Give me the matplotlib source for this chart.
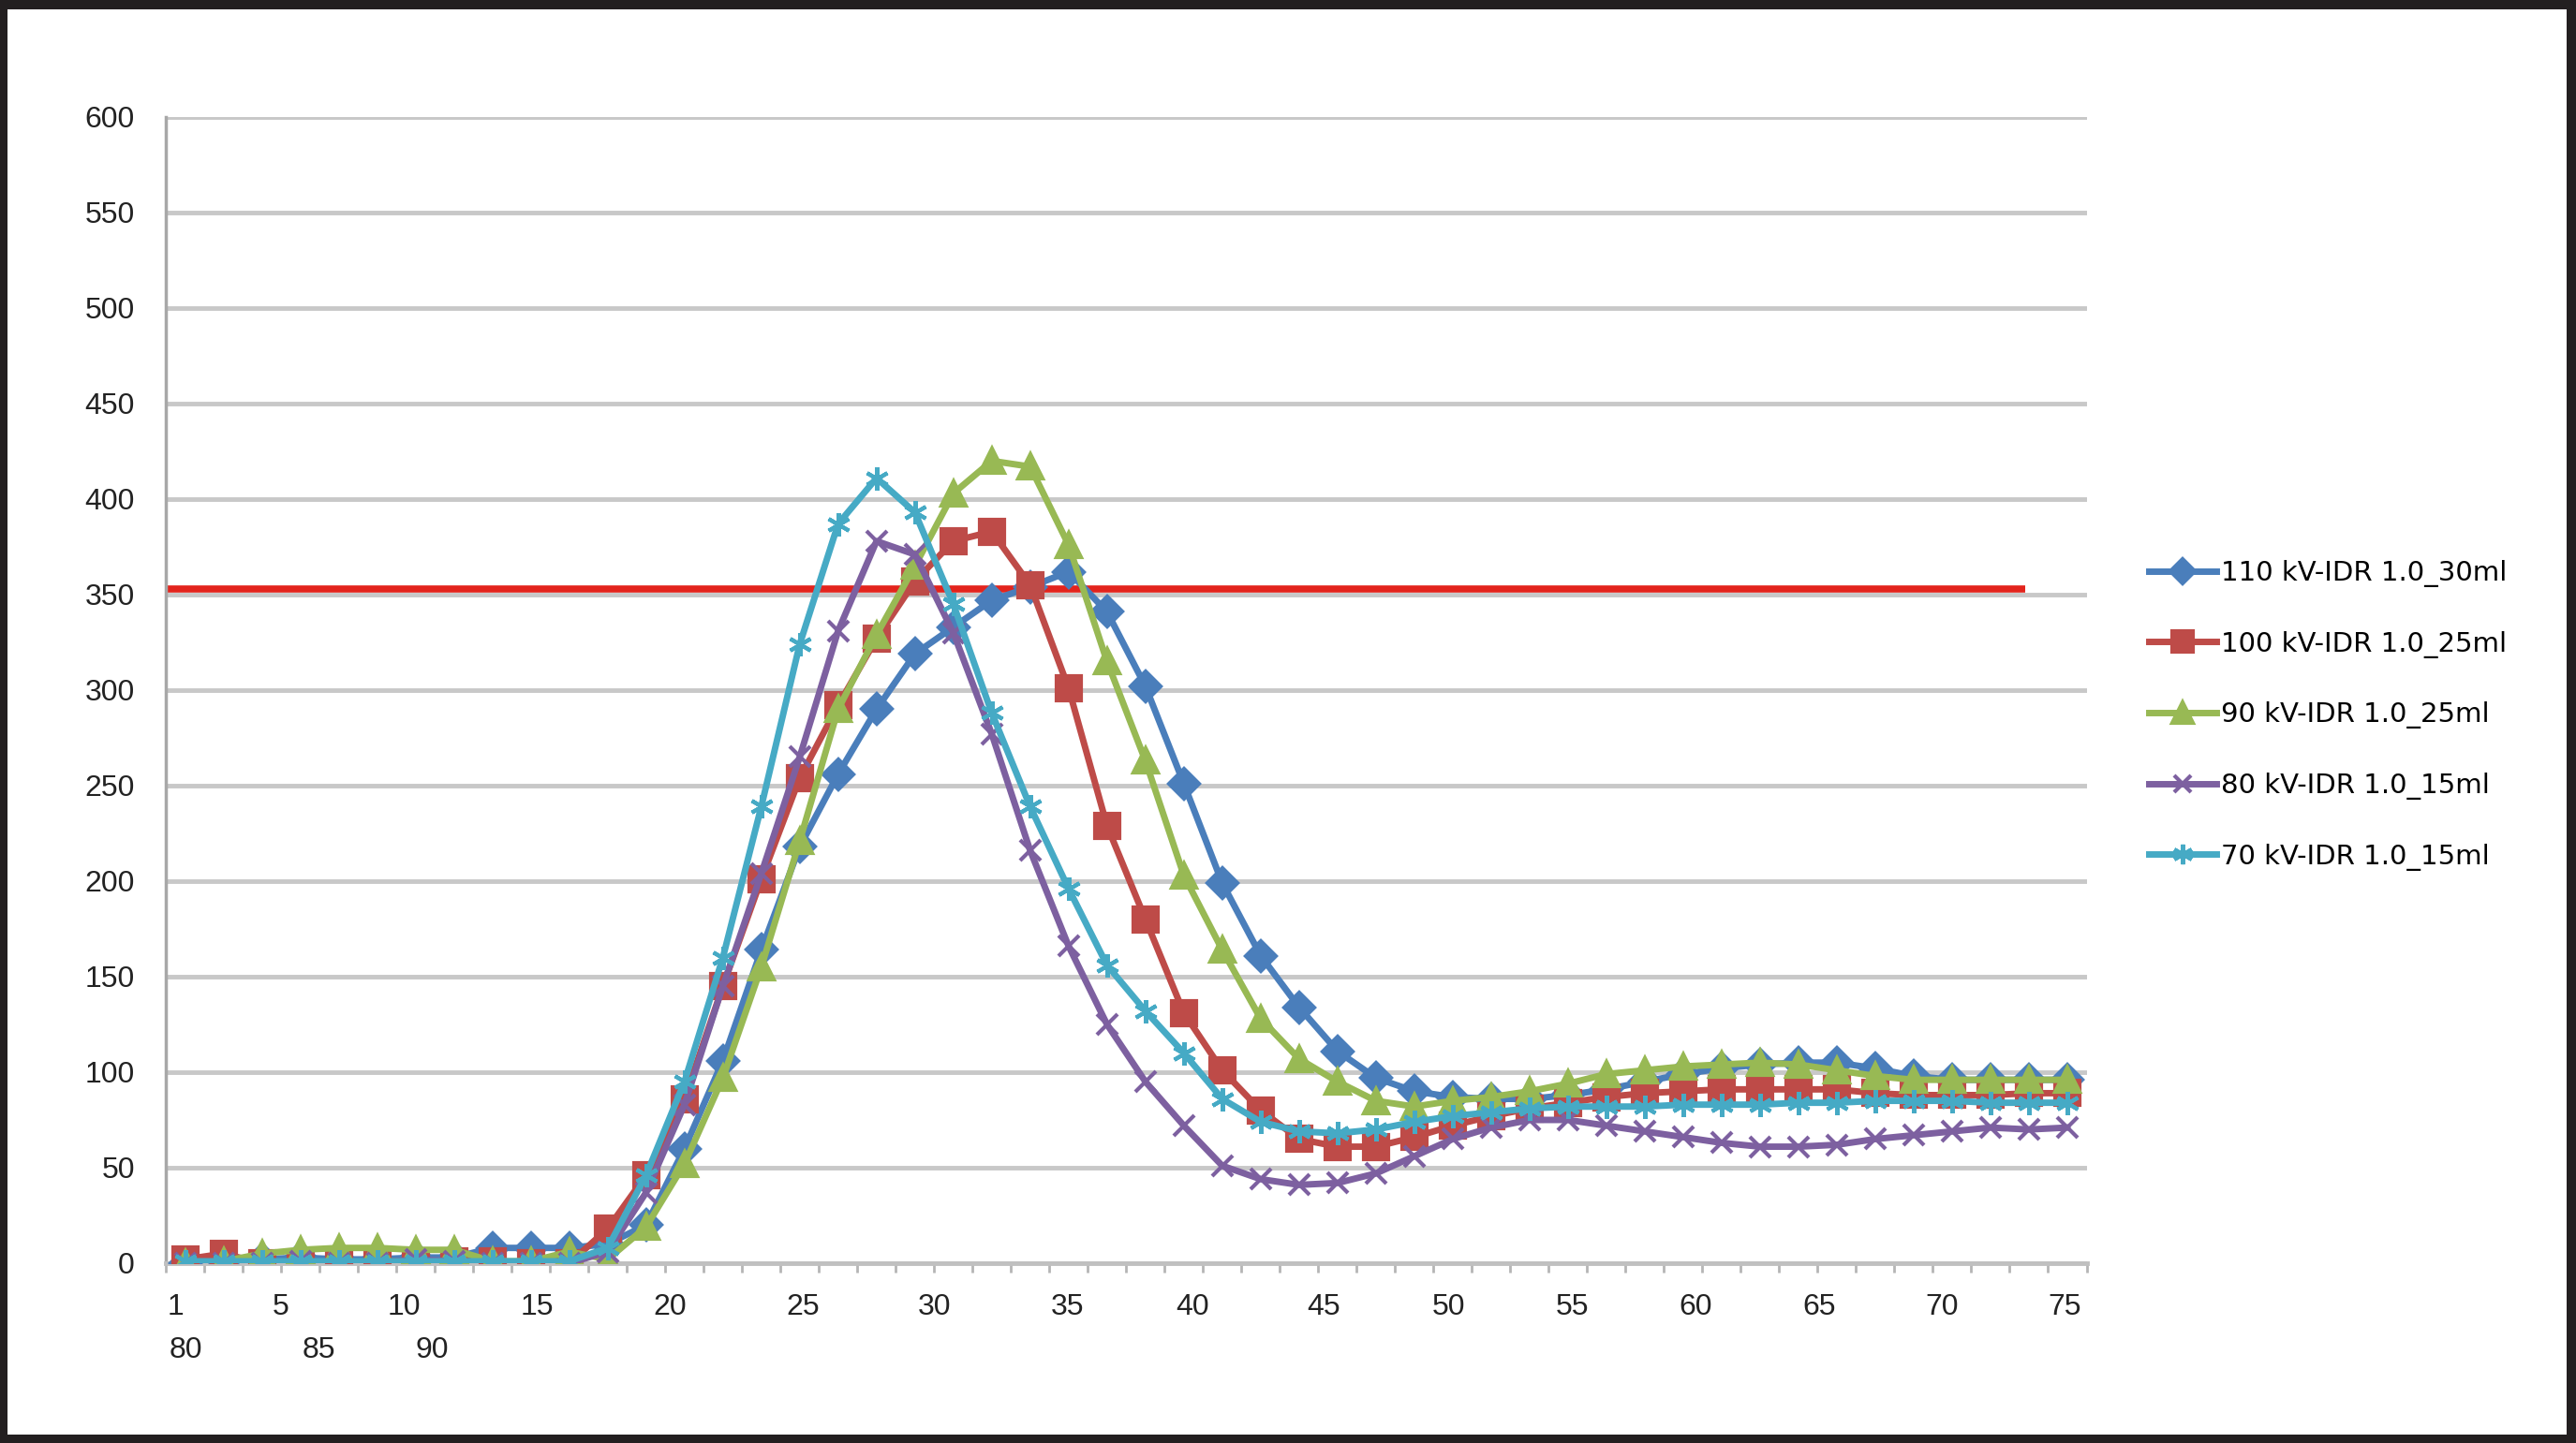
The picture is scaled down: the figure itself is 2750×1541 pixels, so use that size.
import matplotlib
matplotlib.use("Agg")
import matplotlib.pyplot as plt
from matplotlib.patches import Rectangle
import numpy as np

# ---- data (50 samples per curve) ----
series_names = ["110 kV-IDR 1.0_30ml", "100 kV-IDR 1.0_25ml", "90 kV-IDR 1.0_25ml",
                "80 kV-IDR 1.0_15ml", "70 kV-IDR 1.0_15ml"]

kv110 = [0, 1, 2, 3, 2, 2, 3, 3, 8, 8, 8, 10,
         20, 60, 106, 164, 218, 256, 290, 319, 333, 347, 354, 362, 341, 302, 251, 199,
         161, 134, 111, 97, 90, 87, 86, 86, 88, 91, 95, 99, 102, 104, 105, 105, 102,
         98, 96, 96, 96, 96]
kv100 = [2, 5, 0, 0, 0, 1, 1, 1, 1, 0, 0, 18,
         46, 86, 145, 201, 254, 292, 327, 357, 378, 383, 355, 301, 229, 180, 131, 101,
         80, 65, 61, 61, 66, 72, 77, 81, 84, 87, 89, 90, 91, 91, 91, 91, 89,
         88, 88, 88, 89, 89]
kv90 = [0, 1, 5, 7, 8, 8, 7, 7, 1, 1, 6, 2,
        19, 52, 97, 155, 221, 290, 329, 365, 403, 420, 417, 376, 315, 263, 203, 164,
        128, 107, 95, 85, 82, 85, 87, 90, 94, 99, 101, 103, 104, 105, 104, 101, 98,
        96, 96, 96, 96, 96]
kv80 = [0, 0, 0, 1, 0, 0, 2, 1, 0, 0, 0, 6,
        37, 83, 145, 204, 265, 331, 378, 371, 330, 277, 216, 166, 125, 95, 72, 51,
        44, 41, 42, 47, 56, 65, 71, 75, 75, 72, 69, 66, 63, 61, 61, 62, 65,
        67, 69, 71, 70, 71]
kv70 = [1, 1, 1, 1, 1, 1, 1, 1, 1, 1, 1, 8,
        46, 95, 160, 239, 324, 387, 411, 393, 345, 288, 239, 196, 156, 132, 110, 86,
        74, 69, 68, 70, 74, 77, 79, 81, 82, 82, 82, 83, 83, 83, 84, 84, 85,
        85, 85, 84, 84, 84]

threshold = 353

x_labels_row1 = ["1", "5", "10", "15", "20", "25", "30", "35", "40", "45", "50",
                 "55", "60", "65", "70", "75"]
x_labels_row2 = ["80", "85", "90"]

# ---- layout ----
row1_pos = [0.76, 3.49, 6.70, 10.17, 13.63, 17.09, 20.51, 23.98, 27.23, 30.65,
            33.90, 37.11, 40.32, 43.53, 46.74, 49.94]
row2_pos = [1.01, 4.48, 7.43]

colors = ["#4a7ebb", "#be4b48", "#98b954", "#7d60a0", "#46aac5"]
markers = ["D", "s", "^", "x", (6, 2, 0)]
msizes = [16, 19, 19, 16, 18]

plt.rcParams["font.family"] = ["Liberation Sans", "DejaVu Sans"]

fig = plt.figure(figsize=(27.5, 15.41), dpi=100, facecolor="#231f20")
# white page inside the dark frame
fig.patches.append(Rectangle((8 / 2750, 1 - 1532 / 1541), (2740 - 8) / 2750, (1532 - 10) / 1541,
                             transform=fig.transFigure, facecolor="white", edgecolor="none", zorder=-5))

ax = fig.add_axes([0.0644, 0.1246, 0.810 - 0.0644, 0.9189 - 0.1246])
ax.set_facecolor("none")

x = np.arange(1, len(kv110) + 1)
all_series = [kv110, kv100, kv90, kv80, kv70]

ax.hlines(threshold, 0.5, 48.9, color="#e3241d", lw=5.5, zorder=2)

for i, (vals, name) in enumerate(zip(all_series, series_names)):
    ax.plot(x, vals, color=colors[i], lw=5, marker=markers[i], ms=msizes[i],
            mfc=colors[i], mec=colors[i], mew=3, label=name, zorder=3 + i)

ax.set_xlim(0.5, len(kv110) + 0.5)
ax.set_ylim(0, 600)
ax.set_yticks(range(0, 601, 50))
ax.grid(axis="y", color="#c8c8c8", lw=3.5, zorder=1)
ax.tick_params(axis="y", length=0, pad=24, labelsize=23, labelcolor="#222222")

ax.set_xticks([])
ax.set_xticks(np.arange(0.5, len(kv110) + 1, 1), minor=True)
ax.tick_params(axis="x", which="minor", length=7, width=2, color="#b5b5b5")

for s in ["top", "right"]:
    ax.spines[s].set_visible(False)
ax.spines["left"].set_color("#a8a8a8")
ax.spines["left"].set_linewidth(2.5)
ax.spines["bottom"].set_color("#c0c0c0")
ax.spines["bottom"].set_linewidth(3.5)

tr = ax.get_xaxis_transform()
for p, lab in zip(row1_pos, x_labels_row1):
    ax.text(p, -0.0384, lab, transform=tr, ha="center", va="center", fontsize=23, color="#222222")
for p, lab in zip(row2_pos, x_labels_row2):
    ax.text(p, -0.076, lab, transform=tr, ha="center", va="center", fontsize=23, color="#222222")

handles, labels = ax.get_legend_handles_labels()
fig.legend(handles, labels, loc="upper left", bbox_to_anchor=(0.834, 0.612),
           frameon=False, borderpad=0, borderaxespad=0, handlelength=2.5,
           handletextpad=0.15, labelspacing=1.6, markerscale=0.85,
           prop={"family": "DejaVu Sans", "size": 21})

fig.savefig("out.png", dpi=100, facecolor=fig.get_facecolor())
